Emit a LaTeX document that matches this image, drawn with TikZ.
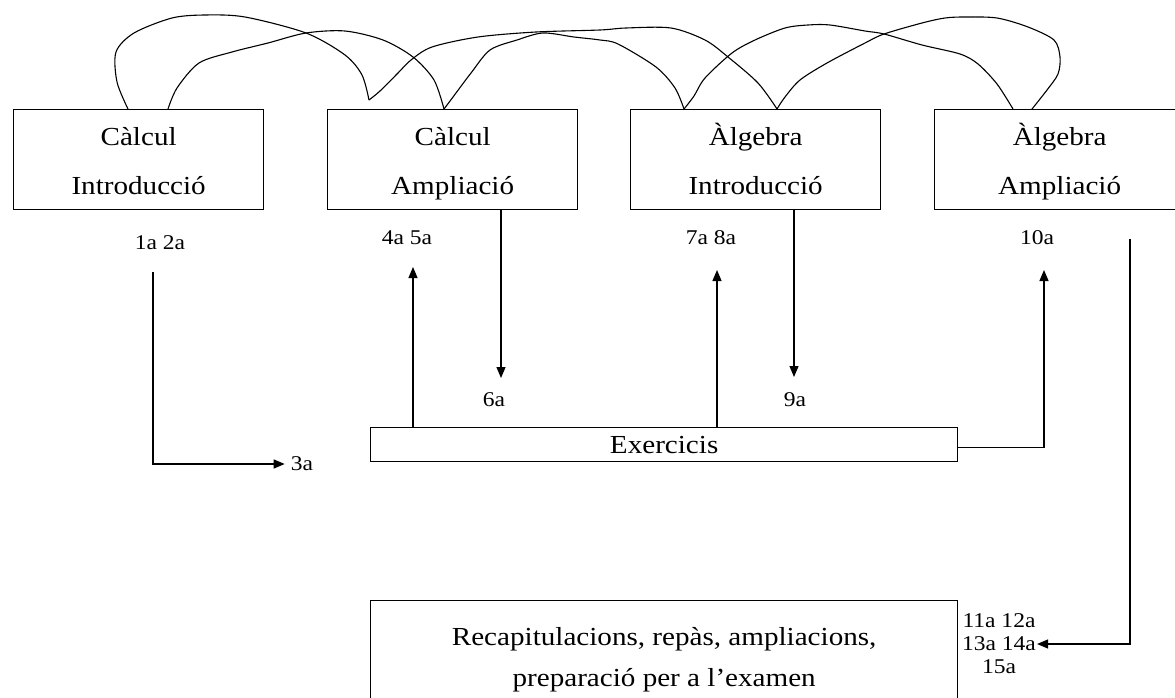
\documentclass[tikz,border=0pt]{standalone}
\usepackage{fontspec}
\setmainfont{Liberation Serif}[FakeStretch=1.12]
\usetikzlibrary{arrows.meta}

\tikzset{
  box/.style={draw, line width=1.3pt, anchor=north west, align=center, inner sep=0pt,
    minimum width=250pt, minimum height=100pt, font=\fontsize{26}{49}\selectfont},
  course/.style={box, text height=80pt, text depth=10pt},
  lab/.style={inner sep=1pt, align=center, font=\fontsize{21}{23}\selectfont},
  arr/.style={line width=1.2pt, -{Triangle[length=11pt,width=9pt]}},
  link/.style={line width=1.1pt}
}

\begin{document}
\begin{tikzpicture}[x=1pt,y=-1pt]
\useasboundingbox (0,0) rectangle (1175,698);
% course boxes
\node[course] (calcint) at (13,109) {Càlcul\\Introducció};
\node[course] (calcamp) at (327,109) {Càlcul\\Ampliació};
\node[course] (algint) at (630,109) {Àlgebra\\Introducció};
\node[course] (algamp) at (934,109) {Àlgebra\\Ampliació};
\node[box, minimum width=587pt, minimum height=34pt] (exer) at (370,427) {Exercicis};
\node[box, minimum width=587pt, minimum height=119pt, font=\fontsize{26}{41}\selectfont] (recap) at (370,600)
  {Recapitulacions, repàs, ampliacions,\\preparació per a l’examen};

% week labels
\node[lab] (l12) at (160,243) {1a 2a};
\node[lab] (l45) at (407,238) {4a 5a};
\node[lab] (l6) at (494,400) {6a};
\node[lab] (l78) at (711,238) {7a 8a};
\node[lab] (l9) at (795,400) {9a};
\node[lab] (l10) at (1037,238) {10a};
\node[lab] (l3) at (302,464) {3a};
\node[lab] (l1115) at (999,644) {11a 12a\\13a 14a\\15a};

% arrow ends
\coordinate (s3) at (153,272);
\coordinate (s11) at (1130,239);
\coordinate (t45) at (413,267);
\coordinate (t6) at (501,378);
\coordinate (t78) at (717,270);
\coordinate (t9) at (794,377);
\coordinate (t10) at (1044,270);

\draw[arr, shorten >=5pt] (s3) |- (l3.west);
\foreach \t in {t45,t78}
  \draw[arr] (exer.north -| \t) -- (\t);
\draw[arr] (calcamp.south -| t6) -- (t6);
\draw[arr] (algint.south -| t9) -- (t9);
\draw[arr] ([yshift=-3pt]exer.east) -| (t10);
\draw[arr] (s11) |- (l1115.east);

% hand drawn links over the boxes
\draw[link] plot[smooth] coordinates {(128,109) (117,82) (116,52) (134,33) (172,18) (205,15) (245,17) (306,33) (345,55) (362,75) (369,100)};
\draw[link] plot[smooth] coordinates {(168,109) (177,88) (199,63) (232,52) (268,43) (306,33) (345,31) (383,40) (413,57) (434,80) (444,109)};
\draw[link] plot[smooth] coordinates {(369,100) (380,91) (398,73) (411,60) (432,47) (478,37) (536,32) (600,30) (626,28) (671,28) (705,40) (728,57) (758,83) (777,109)};
\draw[link] plot[smooth] coordinates {(444,109) (453,97) (471,73) (490,50) (517,40) (543,33) (574,37) (600,40) (618,44) (656,67) (675,88) (684,109)};
\draw[link] plot[smooth] coordinates {(684,109) (694,96) (705,78) (732,53) (755,40) (785,28) (808,25) (830,25) (865,31) (884,34) (922,45) (960,54) (978,64) (997,84) (1013,109)};
\draw[link] plot[smooth] coordinates {(777,109) (785,97) (800,80) (827,63) (865,43) (884,34) (922,23) (945,18) (965,17) (997,18) (1028,27) (1054,40) (1060,57) (1058,74) (1047,90) (1032,109)};
\end{tikzpicture}
\end{document}
